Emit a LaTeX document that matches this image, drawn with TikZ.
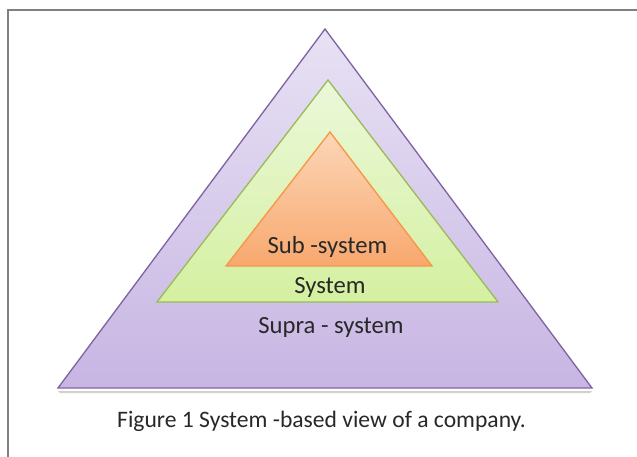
\documentclass[tikz,border=0pt]{standalone}
\usepackage{fontspec}
\setmainfont{Carlito}

\definecolor{supraline}{RGB}{128,100,162}
\definecolor{supratop}{RGB}{232,226,244}
\definecolor{suprabot}{RGB}{199,181,227}
\definecolor{sysline}{RGB}{155,187,89}
\definecolor{systop}{RGB}{236,248,218}
\definecolor{sysbot}{RGB}{212,240,160}
\definecolor{subline}{RGB}{247,150,70}
\definecolor{subtop}{RGB}{252,214,184}
\definecolor{subbot}{RGB}{248,168,110}
\definecolor{labeltext}{RGB}{40,40,40}

\begin{document}
\begin{tikzpicture}[x=0.75pt,y=-0.75pt]
\tikzstyle{every node}+=[inner sep=0pt, text=labeltext, anchor=base]
\tikzstyle{layer label}=[font=\fontsize{18.5}{22}\selectfont]
\useasboundingbox (0,0) rectangle (637,457);
% frame
\draw [gray, line width=1pt] (8,457) -- (8,10) -- (637,10);
% shadows
\fill [black!18] (58,391) -- (592,391) -- (590,393) -- (60,393) -- cycle;
\fill [black!15] (157,305) -- (498,305) -- (496,307) -- (159,307) -- cycle;
\fill [black!15] (226,269) -- (432,269) -- (430,271) -- (228,271) -- cycle;
% supra-system
\draw [supraline, line width=1pt, top color=supratop, bottom color=suprabot] (325,29) -- (592,388) -- (58,388) -- cycle;
% system
\draw [sysline, line width=1pt, top color=systop, bottom color=sysbot] (328,80) -- (498,302) -- (157,302) -- cycle;
% sub-system
\draw [subline, line width=1pt, top color=subtop, bottom color=subbot] (330,132) -- (432,266) -- (226,266) -- cycle;
% labels
\node [layer label] (sub) at (327.5,253) {Sub -system};
\node [layer label] (sys) at (330,293) {System};
\node [layer label] (supra) at (331,333) {Supra - system};
\node [font=\fontsize{17.7}{21}\selectfont] (caption) at (321.5,427) {Figure 1 System -based view of a company.};
\end{tikzpicture}
\end{document}
